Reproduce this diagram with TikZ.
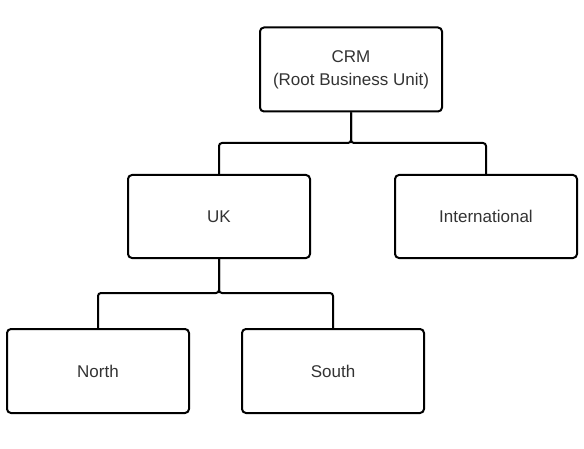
\documentclass[tikz,border=0pt]{standalone}
\usepackage{fontspec}
\setmainfont{Liberation Sans}
\usepackage{tikz}
\usetikzlibrary{positioning,calc}
\colorlet{textgray}{black!80}

\begin{document}
\begin{tikzpicture}[x=1pt,y=1pt,
		unit/.style={draw=black, line width=2pt, rounded corners=4pt, fill=white, minimum width=182pt, minimum height=83pt, align=center, text=textgray, font=\fontsize{17}{23}\selectfont},
		link/.style={draw=black, line width=2pt, rounded corners=3pt}]
				\useasboundingbox (0,0) rectangle (584,448);
				\node[unit, minimum height=84pt] (crm) at (351,378.5) {CRM\\(Root Business Unit)};
				\node[unit] (uk) at (219,231.5) {UK};
				\node[unit] (intl) at (486,231.5) {International};
				\node[unit, minimum height=84pt] (north) at (98,77) {North};
				\node[unit, minimum height=84pt] (south) at (333,77) {South};
				\coordinate (bustop) at (351,305);\coordinate (busuk) at (219,155);
				\draw[link] (crm.south) -- (bustop) -| (uk.north);\draw[link] (crm.south) -- (bustop) -| (intl.north);
				\draw[link] (uk.south) -- (busuk) -| (north.north);\draw[link] (uk.south) -- (busuk) -| (south.north);
			\end{tikzpicture}
\end{document}
